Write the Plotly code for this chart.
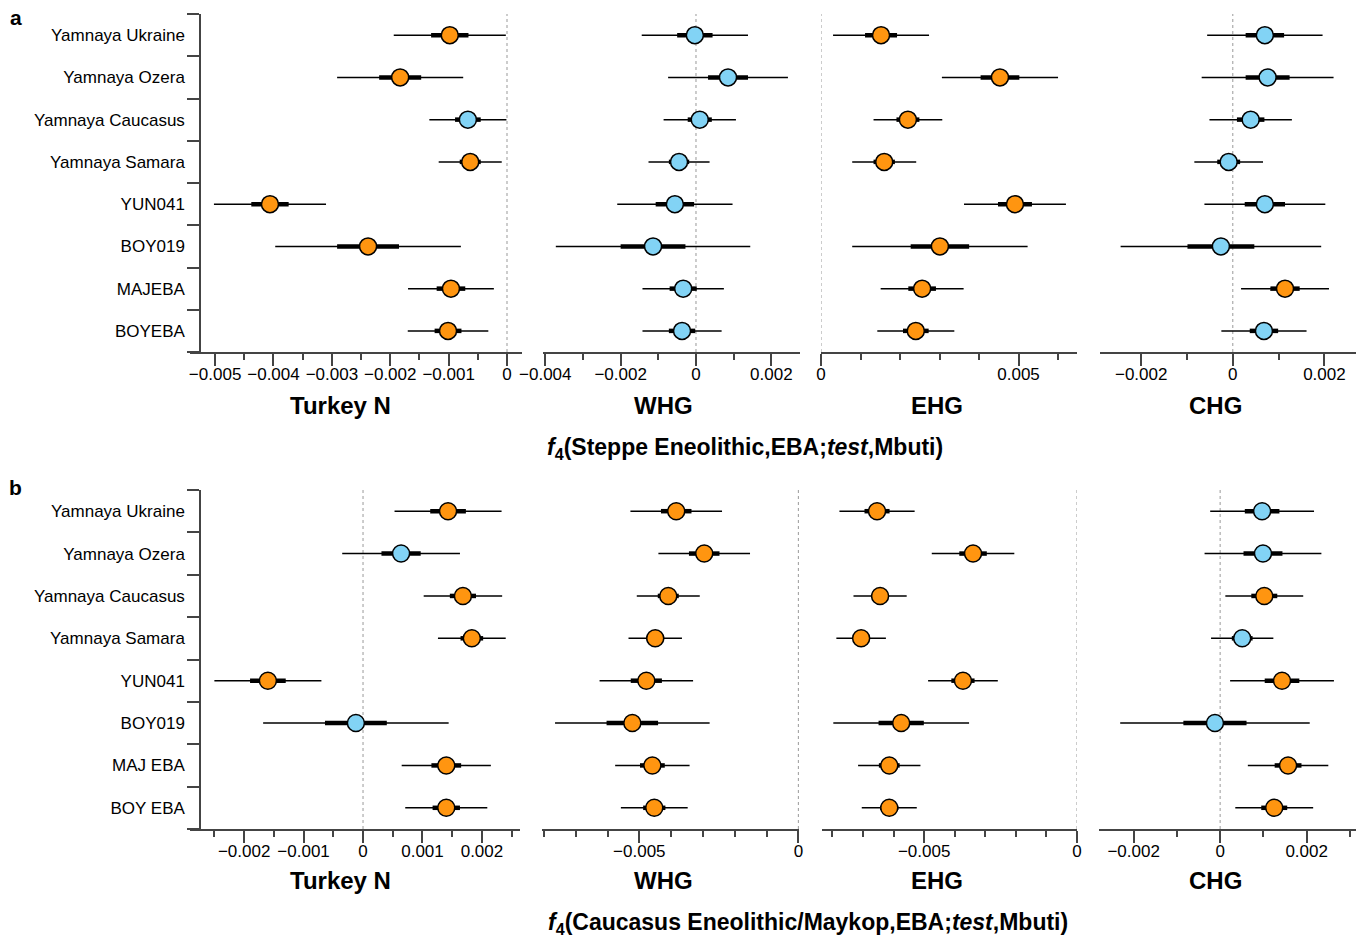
import plotly.graph_objects as go

# ---------------- data ----------------
cats_a = ["Yamnaya Ukraine", "Yamnaya Ozera", "Yamnaya Caucasus", "Yamnaya Samara",
          "YUN041", "BOY019", "MAJEBA", "BOYEBA"]
cats_b = ["Yamnaya Ukraine", "Yamnaya Ozera", "Yamnaya Caucasus", "Yamnaya Samara",
          "YUN041", "BOY019", "MAJ EBA", "BOY EBA"]
sources = ["Turkey N", "WHG", "EHG", "CHG"]

# Panel a: f4(Steppe Eneolithic,EBA; test, Mbuti)
a_turk_est = [-0.00098, -0.00183, -0.00067, -0.00063, -0.00406, -0.00238, -0.00096, -0.00101]
a_turk_se = [0.00032, 0.00036, 0.00022, 0.00018, 0.00032, 0.00053, 0.000245, 0.00023]
a_turk_sig = [1, 1, 0, 1, 1, 1, 1, 1]

a_whg_est = [-0.00003, 0.00085, 0.00010, -0.00045, -0.00056, -0.00114, -0.00034, -0.00037]
a_whg_se = [0.00047, 0.00053, 0.00032, 0.00027, 0.00051, 0.00086, 0.00036, 0.00035]
a_whg_sig = [0, 0, 0, 0, 0, 0, 0, 0]

a_ehg_est = [0.00152, 0.00453, 0.00220, 0.00160, 0.00491, 0.00301, 0.00256, 0.00240]
a_ehg_se = [0.000405, 0.00049, 0.00029, 0.00027, 0.00043, 0.00074, 0.00035, 0.000325]
a_ehg_sig = [1, 1, 1, 1, 1, 1, 1, 1]

a_chg_est = [0.00070, 0.00076, 0.00039, -0.00009, 0.00070, -0.00026, 0.00114, 0.00068]
a_chg_se = [0.00042, 0.00048, 0.00030, 0.00025, 0.00044, 0.00073, 0.00032, 0.00031]
a_chg_sig = [0, 0, 0, 0, 0, 0, 1, 0]

# Panel b: f4(Caucasus Eneolithic/Maykop,EBA; test, Mbuti)
b_turk_est = [0.00143, 0.00064, 0.00168, 0.00183, -0.00160, -0.00012, 0.00140, 0.00140]
b_turk_se = [0.00030, 0.00033, 0.00022, 0.00019, 0.00030, 0.00052, 0.00025, 0.00023]
b_turk_sig = [1, 0, 1, 1, 1, 0, 1, 1]

b_whg_est = [-0.00384, -0.00296, -0.00409, -0.00450, -0.00478, -0.00522, -0.00459, -0.00453]
b_whg_se = [0.00048, 0.00048, 0.00033, 0.00028, 0.00049, 0.00081, 0.00039, 0.00035]
b_whg_sig = [1, 1, 1, 1, 1, 1, 1, 1]

b_ehg_est = [-0.00654, -0.00340, -0.00644, -0.00706, -0.00373, -0.00575, -0.00614, -0.00614]
b_ehg_se = [0.00041, 0.00045, 0.00029, 0.00027, 0.00038, 0.00074, 0.00034, 0.00030]
b_ehg_sig = [1, 1, 1, 1, 1, 1, 1, 1]

b_chg_est = [0.00097, 0.00099, 0.00102, 0.00051, 0.00143, -0.00012, 0.00157, 0.00125]
b_chg_se = [0.00040, 0.00045, 0.00030, 0.00024, 0.00040, 0.00073, 0.00031, 0.00030]
b_chg_sig = [0, 0, 1, 0, 1, 0, 1, 1]

title_a = "<b><i>f</i><sub>4</sub>(Steppe Eneolithic,EBA;<i>test</i>,Mbuti)</b>"
title_b = "<b><i>f</i><sub>4</sub>(Caucasus Eneolithic/Maykop,EBA;<i>test</i>,Mbuti)</b>"

# ---------------- styling / layout ----------------
W, H = 1370, 940
FONT = "Liberation Sans, Arial, Helvetica, sans-serif"
ORANGE = "#FF9510"
BLUE = "#82D3F5"
AXC = "#444444"

panels = [
    (a_turk_est, a_turk_se, a_turk_sig), (a_whg_est, a_whg_se, a_whg_sig),
    (a_ehg_est, a_ehg_se, a_ehg_sig), (a_chg_est, a_chg_se, a_chg_sig),
    (b_turk_est, b_turk_se, b_turk_sig), (b_whg_est, b_whg_se, b_whg_sig),
    (b_ehg_est, b_ehg_se, b_ehg_sig), (b_chg_est, b_chg_se, b_chg_sig),
]

# pixel domains
xdom_px = [(190, 522), (543, 800), (821, 1077), (1100, 1356),
           (190, 520), (542, 799), (822, 1077), (1099, 1356)]
ydom_px = [(14, 352), (490, 829)]
xranges = [(-0.00543, 0.000257), (-0.00406, 0.00276), (0.0, 0.00648), (-0.0029, 0.00269),
           (-0.00291, 0.00264), (-0.00806, 0.00002), (-0.00834, 0.0), (-0.0028, 0.00314)]
dticks = [(0.001, 0.0005), (0.002, 0.001), (0.005, 0.001), (0.002, 0.001),
          (0.001, 0.0005), (0.005, 0.001), (0.005, 0.001), (0.002, 0.001)]

fig = go.Figure()
shapes = []
for p, (est, se, sig) in enumerate(panels):
    ax = "" if p == 0 else str(p + 1)
    xr, yr = "x" + ax, "y" + ax
    idx = list(range(len(est)))
    cols = [ORANGE if s else BLUE for s in sig]
    # +-3 SE thin lines
    fig.add_trace(go.Scatter(
        x=est, y=idx, xaxis=xr, yaxis=yr, mode="markers",
        marker=dict(size=0, color="black"),
        error_x=dict(type="data", array=[3 * s for s in se], visible=True,
                     thickness=1.5, width=0, color="black"),
        hoverinfo="skip"))
    # +-1 SE thick lines
    fig.add_trace(go.Scatter(
        x=est, y=idx, xaxis=xr, yaxis=yr, mode="markers",
        marker=dict(size=0, color="black"),
        error_x=dict(type="data", array=se, visible=True,
                     thickness=4.5, width=0, color="black"),
        hoverinfo="skip"))
    # points
    fig.add_trace(go.Scatter(
        x=est, y=idx, xaxis=xr, yaxis=yr, mode="markers",
        marker=dict(size=17, color=cols, line=dict(color="black", width=1.5))))

    row = p // 4
    x0, x1 = xdom_px[p]
    y0, y1 = ydom_px[row]
    dt, mdt = dticks[p]
    fig.layout["xaxis" + ax] = dict(
        domain=[x0 / W, x1 / W], range=list(xranges[p]), anchor=yr, automargin=False,
        showline=True, linecolor=AXC, linewidth=1.5, mirror=False,
        ticks="outside", ticklen=12, tickwidth=1.5, tickcolor=AXC,
        tick0=0, dtick=dt, tickformat="~g", ticklabelstandoff=-6,
        tickfont=dict(size=17, color="black", family=FONT),
        showgrid=False, zeroline=False,
        minor=dict(tick0=0, dtick=mdt, ticks="outside", ticklen=6,
                   tickwidth=1.5, tickcolor=AXC, showgrid=False))
    cats = cats_a if row == 0 else cats_b
    ydict = dict(domain=[1 - y1 / H, 1 - y0 / H], range=[7.5, -0.5], type="linear",
                 showgrid=False, zeroline=False, automargin=False)
    if p % 4 == 0:
        ydict.update(
            anchor="free", position=200 / W, showline=True, linecolor=AXC, linewidth=1.5,
            tickmode="array", tickvals=idx, ticktext=cats, ticks="", ticklabelstandoff=11,
            tickfont=dict(size=17, color="black", family=FONT),
            minor=dict(tickmode="array", tickvals=[i - 0.5 for i in range(len(cats) + 1)],
                       ticks="outside", ticklen=12, tickwidth=1.5, tickcolor=AXC,
                       showgrid=False))
    else:
        ydict.update(anchor=xr, visible=False)
    fig.layout["yaxis" + ax] = ydict

    # dotted zero line
    shapes.append(dict(type="line", xref=xr, yref=yr + " domain", x0=0, x1=0, y0=0, y1=1,
                       line=dict(color="#999999", width=1, dash="dot"), layer="below"))

annotations = []
title_cx = [340, 663, 937, 1215]
for row, ty in enumerate([405, 880]):
    for c, name in enumerate(sources):
        annotations.append(dict(text="<b>%s</b>" % name, x=title_cx[c] / W, y=1 - ty / H,
                                xref="paper", yref="paper", showarrow=False,
                                xanchor="center", yanchor="middle",
                                font=dict(size=24, color="black", family=FONT)))
annotations.append(dict(text=title_a, x=745 / W, y=1 - 448 / H, xref="paper", yref="paper",
                        showarrow=False, xanchor="center", yanchor="middle",
                        font=dict(size=23, color="black", family=FONT)))
annotations.append(dict(text=title_b, x=808 / W, y=1 - 923 / H, xref="paper", yref="paper",
                        showarrow=False, xanchor="center", yanchor="middle",
                        font=dict(size=23, color="black", family=FONT)))
for letter, ly in [("a", 18), ("b", 487)]:
    annotations.append(dict(text="<b>%s</b>" % letter, x=16 / W, y=1 - ly / H,
                            xref="paper", yref="paper", showarrow=False,
                            xanchor="center", yanchor="middle",
                            font=dict(size=21, color="black", family=FONT)))

fig.update_layout(width=W, height=H, margin=dict(l=0, r=0, t=0, b=0, autoexpand=False),
                  paper_bgcolor="white", plot_bgcolor="white", showlegend=False,
                  shapes=shapes, annotations=annotations,
                  font=dict(family=FONT, color="black"))
fig.write_html("out.html")
